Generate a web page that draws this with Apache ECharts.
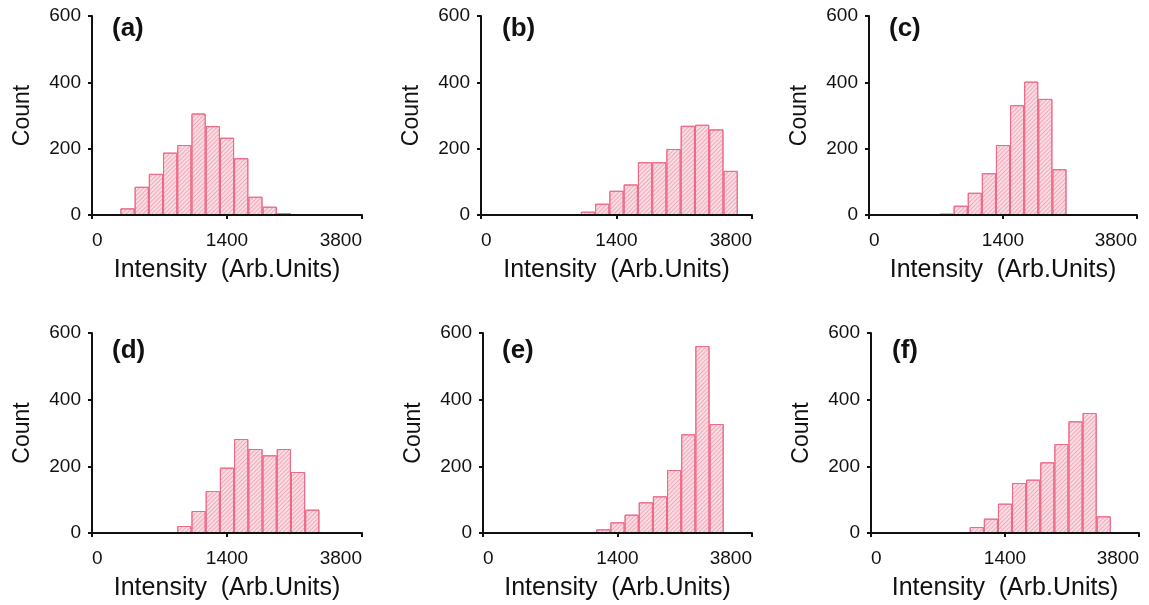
<!DOCTYPE html>
<html>
<head>
<meta charset="utf-8">
<script src="https://cdn.jsdelivr.net/npm/echarts@6/dist/echarts.min.js"></script>
<style>
html,body{margin:0;padding:0;background:#fff;}
#chart{width:1149px;height:605px;}
</style>
</head>
<body>
<div id="chart"></div>
<script>
// ---- data ----
const panelLabels = ['(a)', '(b)', '(c)', '(d)', '(e)', '(f)'];
const bins = ['b0','b1','b2','b3','b4','b5','b6','b7','b8','b9','b10','b11','b12','b13','b14','b15','b16','b17','b18'];
const countsA = [0, 0, 20, 85, 124, 188, 211, 306, 268, 233, 171, 55, 25, 5, 2, 0, 0, 0, 0];
const countsB = [0, 0, 0, 0, 0, 0, 3, 10, 34, 73, 92, 159, 159, 199, 269, 272, 258, 133, 0];
const countsC = [0, 0, 0, 0, 0, 4, 28, 67, 126, 211, 331, 402, 350, 138, 0, 0, 0, 0, 0];
const countsD = [0, 0, 0, 0, 0, 0, 21, 66, 126, 196, 282, 252, 233, 252, 183, 70, 0, 0, 0];
const countsE = [0, 0, 0, 0, 0, 0, 0, 2, 11, 32, 55, 92, 110, 189, 296, 561, 327, 0, 0];
const countsF = [0, 0, 0, 0, 0, 0, 3, 18, 43, 88, 150, 160, 212, 267, 335, 360, 50, 0, 0];
const xTickValues = [0, 9.5, 19];
const xTickLabels = ['0', '1400', '3800'];
const yTickLabels = ['0', '200', '400', '600'];
const xName = 'Intensity  (Arb.Units)';
const yName = 'Count';

const allCounts = [countsA, countsB, countsC, countsD, countsE, countsF];

// ---- layout ----
const grids = [
  {left: 92, top: 16, width: 270, height: 199},
  {left: 481, top: 16, width: 271, height: 199},
  {left: 869, top: 16, width: 268, height: 199},
  {left: 92, top: 333, width: 270, height: 200},
  {left: 483, top: 333, width: 269, height: 200},
  {left: 871, top: 333, width: 268, height: 200}
];
const labelPos = [
  {left: 107, top: 11}, {left: 497, top: 11}, {left: 884, top: 11},
  {left: 107, top: 333}, {left: 497, top: 333}, {left: 887, top: 333}
];

const FONT = "'Liberation Sans', Arial, Helvetica, sans-serif";
const chart = echarts.init(document.getElementById('chart'), null, {renderer: 'canvas'});

const option = {
  backgroundColor: '#ffffff',
  animation: false,
  textStyle: {fontFamily: FONT},
  title: [],
  grid: [],
  xAxis: [],
  yAxis: [],
  series: []
};

grids.forEach((g, i) => {
  option.grid.push(Object.assign({containLabel: false}, g));
  option.title.push({
    text: panelLabels[i],
    left: labelPos[i].left,
    top: labelPos[i].top,
    textStyle: {fontSize: 26, fontWeight: 'bold', color: '#111', fontFamily: FONT}
  });
  // hidden category axis carrying the bars
  option.xAxis.push({
    type: 'category',
    gridIndex: i,
    data: bins,
    boundaryGap: true,
    show: false
  });
  // visible value axis carrying ticks and labels
  option.xAxis.push({
    type: 'value',
    gridIndex: i,
    min: 0,
    max: 19,
    interval: 9.5,
    position: 'bottom',
    z: 5,
    name: xName,
    nameLocation: 'middle',
    nameGap: 43,
    nameTextStyle: {fontSize: 25, color: '#111', fontFamily: FONT},
    axisLine: {show: true, onZero: false, lineStyle: {color: '#111', width: 2}},
    axisTick: {show: true, length: 4, lineStyle: {color: '#111', width: 2}},
    splitLine: {show: false},
    axisLabel: {
      fontSize: 19,
      color: '#111',
      margin: 16,
      alignMinLabel: 'left',
      alignMaxLabel: 'right',
      formatter: function (v) {
        const k = xTickValues.indexOf(v);
        return k >= 0 ? xTickLabels[k] : '';
      }
    }
  });
  option.yAxis.push({
    type: 'value',
    gridIndex: i,
    min: 0,
    max: 600,
    interval: 200,
    z: 5,
    name: yName,
    nameLocation: 'middle',
    nameGap: 58,
    nameTextStyle: {fontSize: 23, color: '#111', fontFamily: FONT},
    axisLine: {show: true, lineStyle: {color: '#111', width: 2}},
    axisTick: {show: true, length: 4, lineStyle: {color: '#111', width: 2}},
    splitLine: {show: false},
    axisLabel: {
      fontSize: 19,
      color: '#111',
      margin: 11,
      formatter: function (v) { return yTickLabels[Math.round(v / 200)]; }
    }
  });
  option.series.push({
    type: 'bar',
    xAxisIndex: i * 2,
    yAxisIndex: i,
    z: 2,
    data: allCounts[i],
    barCategoryGap: '0%',
    barWidth: '100%',
    itemStyle: {
      color: '#fadde3',
      borderColor: '#ec6b89',
      borderWidth: 1,
      decal: {
        symbol: 'rect',
        symbolSize: 1,
        color: 'rgba(232, 120, 148, 0.5)',
        dashArrayX: [1, 0],
        dashArrayY: [1, 2],
        rotation: -Math.PI / 4
      }
    },
    silent: true
  });
});

chart.setOption(option);
</script>
</body>
</html>
